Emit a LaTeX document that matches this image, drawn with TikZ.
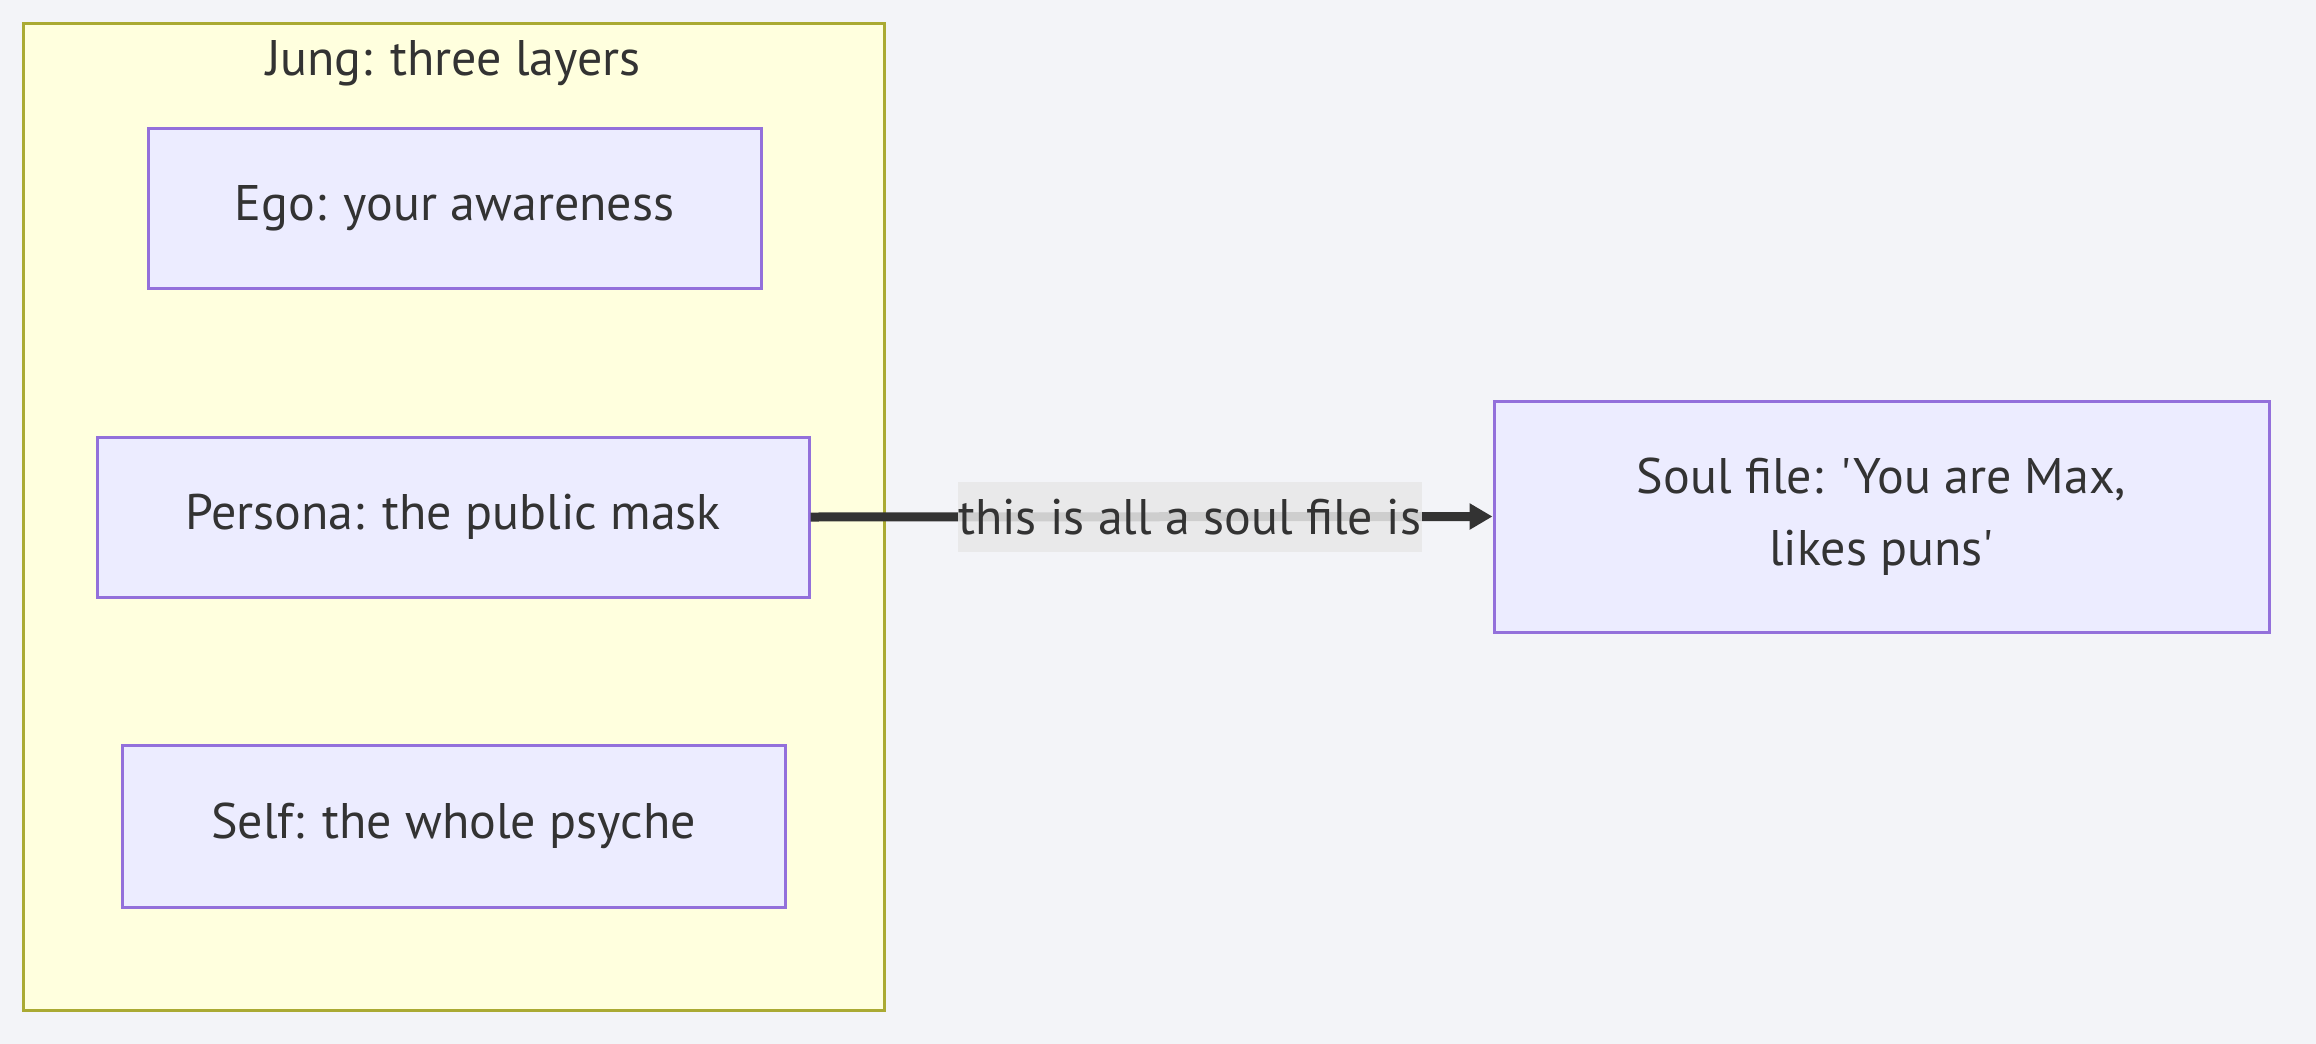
\documentclass[tikz,border=0pt]{standalone}
\usepackage{fontspec}
\setmainfont{PT Sans}[Ligatures=TeXOff]
\usetikzlibrary{arrows.meta}
\definecolor{bgc}{HTML}{F3F4F8}
\definecolor{nodefill}{HTML}{ECECFF}
\definecolor{nodedraw}{HTML}{9370DB}
\definecolor{subfill}{HTML}{FFFFDE}
\definecolor{subdraw}{HTML}{AAAA33}
\definecolor{txt}{HTML}{333333}
\definecolor{lblbg}{HTML}{E8E8E8}
\tikzset{
  boxnode/.style={draw=nodedraw, fill=nodefill, line width=3pt, text=txt, font=\fontsize{50}{72}\selectfont, align=center, inner sep=0pt},
  edgelbl/.style={fill=lblbg, fill opacity=0.86, text opacity=1, text=txt, font=\fontsize{50}{56}\selectfont, inner sep=0pt, minimum width=464pt, minimum height=70pt},
  conn/.style={draw=txt, line width=9pt, -{Triangle[length=23pt,width=25pt]}}
}
\begin{document}
\begin{tikzpicture}[x=1pt,y=-1pt]
\fill[bgc] (0,0) rectangle (2316,1044);
\useasboundingbox (0,0) rectangle (2316,1044);
\draw[draw=subdraw, fill=subfill, line width=3pt] (23,23) rectangle (884,1010);
\node[text=txt, font=\fontsize{50}{56}\selectfont, anchor=base] (title) at (453.5,75) {Jung: three layers};
\node[boxnode, minimum width=613pt, minimum height=160pt] (ego) at (454.5,208) {Ego: your awareness};
\node[boxnode, minimum width=712pt, minimum height=160pt] (persona) at (453,517) {Persona: the public mask};
\node[boxnode, minimum width=663pt, minimum height=162pt] (self) at (453.5,826) {Self: the whole psyche};
\node[boxnode, minimum width=775pt, minimum height=231pt] (soul) at (1881.5,516.5) {Soul file: 'You are Max,\\likes puns'};
\draw[conn] (persona.east) -- (soul.west) node[edgelbl, pos=0.556] (lbl) {this is all a soul file is};
\end{tikzpicture}
\end{document}
